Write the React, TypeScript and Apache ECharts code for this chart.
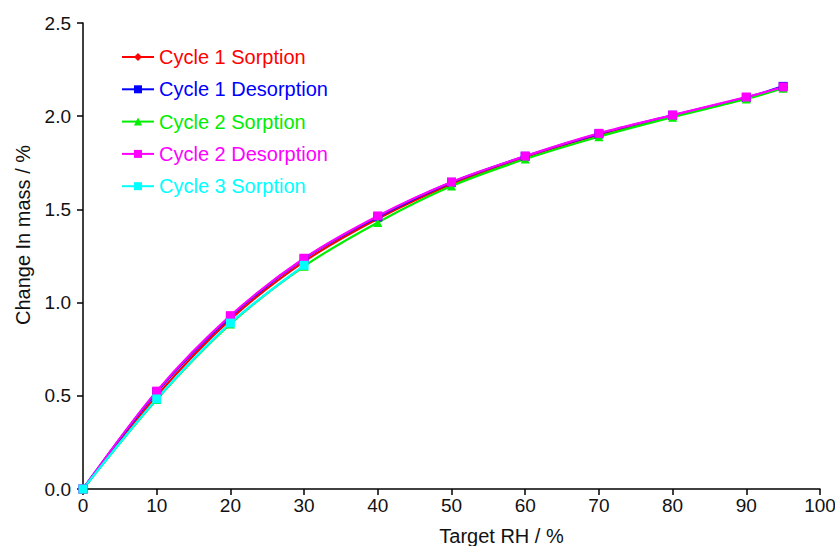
import React, { useEffect, useRef } from "react";
import * as echarts from "echarts";

const rh = [0, 10, 20, 30, 40, 50, 60, 70, 80, 90, 95];
const cycle1Sorption = [0, 0.5, 0.91, 1.22, 1.45, 1.635, 1.78, 1.9, 2.0, 2.095, 2.155];
const cycle1Desorption = [0, 0.52, 0.925, 1.235, 1.46, 1.645, 1.785, 1.905, 2.005, 2.1, 2.16];
const cycle2Sorption = [0, 0.48, 0.885, 1.195, 1.43, 1.625, 1.77, 1.89, 1.995, 2.092, 2.15];
const cycle2Desorption = [0, 0.525, 0.93, 1.238, 1.465, 1.647, 1.786, 1.908, 2.006, 2.103, 2.157];
const cycle3Rh = [0, 10, 20, 30];
const cycle3Sorption = [0, 0.483, 0.89, 1.2];

const seriesDefs = [
  { name: "Cycle 1 Sorption", x: rh, y: cycle1Sorption, color: "#ff0000", symbol: "diamond", size: 9 },
  { name: "Cycle 1 Desorption", x: rh, y: cycle1Desorption, color: "#0000ff", symbol: "rect", size: 9 },
  { name: "Cycle 2 Sorption", x: rh, y: cycle2Sorption, color: "#00ee00", symbol: "triangle", size: 9 },
  { name: "Cycle 2 Desorption", x: rh, y: cycle2Desorption, color: "#ff00ff", symbol: "rect", size: 9 },
  { name: "Cycle 3 Sorption", x: cycle3Rh, y: cycle3Sorption, color: "#00ffff", symbol: "rect", size: 9 },
];

const FONT = "'Liberation Sans', Arial, sans-serif";

export default function App() {
  const ref = useRef<HTMLDivElement>(null);
  useEffect(() => {
    if (!ref.current) return;
    const chart = echarts.init(ref.current, null, { renderer: "svg" });
    chart.setOption({
      animation: false,
      backgroundColor: "#ffffff",
      grid: { left: 83, right: 15, top: 23, bottom: 57, containLabel: false, outerBoundsMode: "none" },
      legend: {
        orient: "vertical",
        left: 116,
        top: 42,
        itemGap: 12.3,
        itemWidth: 32,
        itemHeight: 10,
        textStyle: { fontFamily: FONT, fontSize: 20 },
        data: seriesDefs.map((s) => ({ name: s.name, textStyle: { color: s.color } })),
      },
      xAxis: {
        type: "value",
        min: 0,
        max: 100,
        interval: 10,
        name: "Target RH / %",
        nameLocation: "middle",
        nameGap: 37,
        nameTextStyle: { fontFamily: FONT, fontSize: 20, color: "#111", padding: [0, 0, 0, 100] },
        splitLine: { show: false },
        axisLine: { onZero: false, lineStyle: { color: "#000", width: 1.5 } },
        axisTick: { length: 6, lineStyle: { color: "#000", width: 1.5 } },
        axisLabel: { fontFamily: FONT, fontSize: 19, color: "#111", margin: 7 },
      },
      yAxis: {
        type: "value",
        min: 0,
        max: 2.5,
        interval: 0.5,
        name: "Change In mass / %",
        nameLocation: "middle",
        nameGap: 50,
        nameRotate: 90,
        nameTextStyle: { fontFamily: FONT, fontSize: 20, color: "#111", padding: [0, 0, 0, 42] },
        splitLine: { show: false },
        axisLine: { show: true, lineStyle: { color: "#000", width: 1.5 } },
        axisTick: { show: true, length: 6, lineStyle: { color: "#000", width: 1.5 } },
        axisLabel: {
          fontFamily: FONT,
          fontSize: 19,
          color: "#111",
          margin: 12,
          formatter: (v: number) => v.toFixed(1),
        },
      },
      series: seriesDefs.map((s) => ({
        name: s.name,
        type: "line",
        smooth: 0.3,
        data: s.x.map((xv, i) => [xv, s.y[i]]),
        symbol: s.symbol,
        symbolSize: s.size,
        showAllSymbol: true,
        itemStyle: { color: s.color },
        lineStyle: { color: s.color, width: 2.2 },
      })),
    });
    return () => chart.dispose();
  }, []);
  return <div ref={ref} style={{ width: 835, height: 546, position: "absolute", left: 0, top: 0 }} />;
}
